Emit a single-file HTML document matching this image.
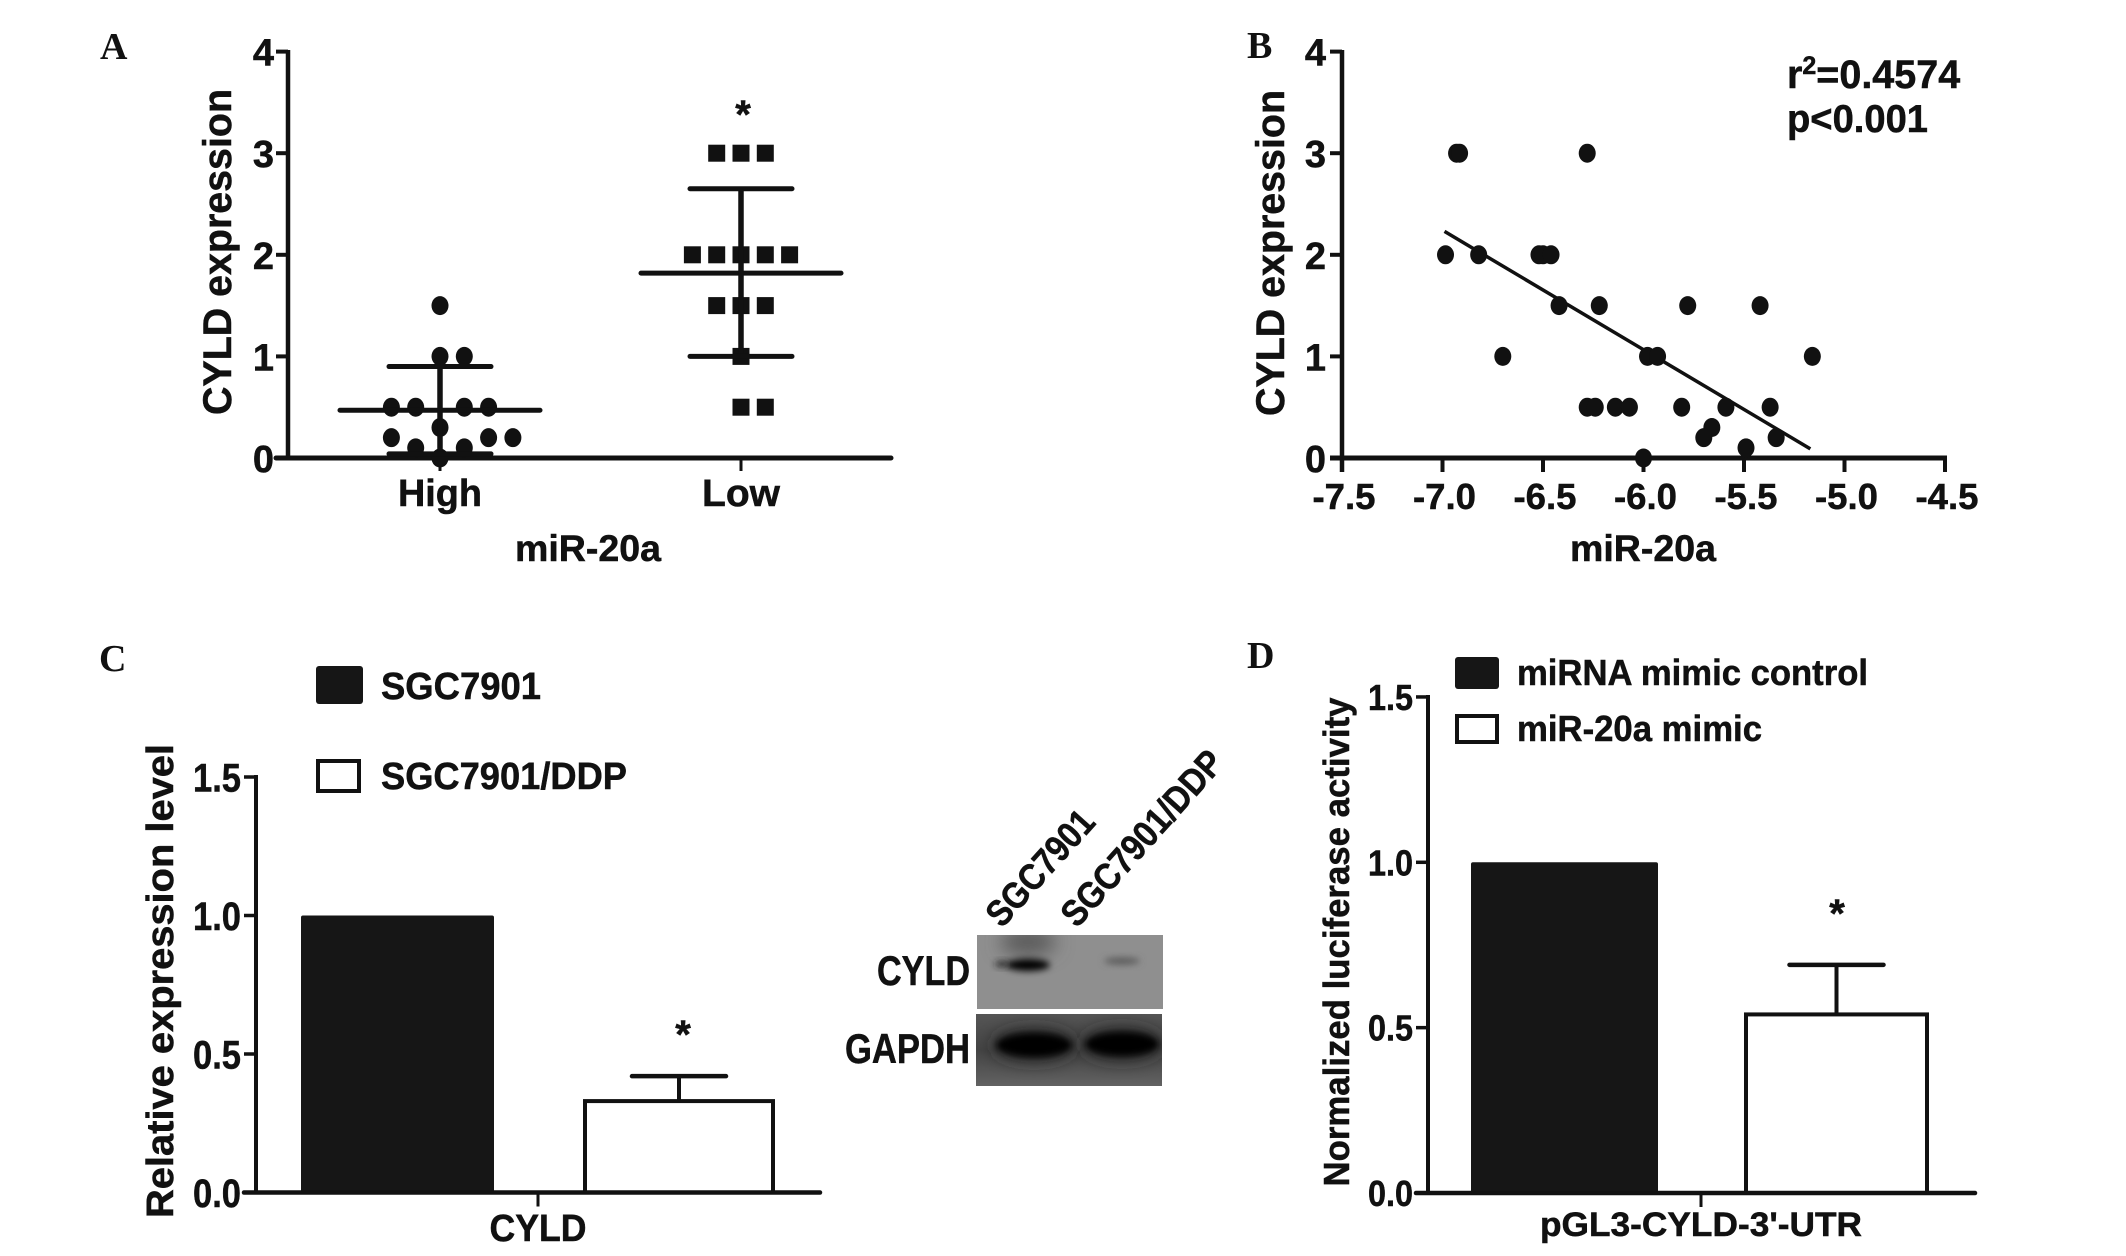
<!DOCTYPE html>
<html lang="en">
<head>
<meta charset="utf-8">
<title>CYLD expression figure</title>
<style>
html,body{margin:0;padding:0;background:#fff;}
svg{display:block;}
text{font-family:"Liberation Sans",sans-serif;font-weight:bold;fill:#111;stroke:#111;stroke-width:0.5px;}
.panel-letter{font-family:"Liberation Serif",serif;font-size:38px;stroke:none;}
</style>
</head>
<body>
<svg id="fig" xmlns="http://www.w3.org/2000/svg" width="2126" height="1256" viewBox="0 0 2126 1256">
  <defs>
    <filter id="blur-soft" x="-40%" y="-80%" width="180%" height="260%"><feGaussianBlur stdDeviation="3.5"/></filter>
    <filter id="blur-wide" x="-40%" y="-80%" width="180%" height="260%"><feGaussianBlur stdDeviation="9"/></filter>
    <clipPath id="clip-cyld"><rect x="977" y="935" width="186" height="74"/></clipPath>
    <clipPath id="clip-gapdh"><rect x="976" y="1014" width="186" height="72"/></clipPath>
    <linearGradient id="gapdh-bg" x1="0" y1="0" x2="0" y2="1">
      <stop offset="0" stop-color="#555"/><stop offset="0.5" stop-color="#444"/><stop offset="1" stop-color="#626262"/>
    </linearGradient>
  </defs>

  <text class="panel-letter" x="100" y="59">A</text>
  <text class="panel-letter" x="1247" y="58">B</text>
  <text class="panel-letter" x="99" y="671">C</text>
  <text class="panel-letter" x="1247" y="668">D</text>

  <g>
    <g clip-path="url(#clip-cyld)">
      <rect x="977" y="935" width="186" height="74" fill="#8f8f8f"/>
      <ellipse cx="1028" cy="942" rx="28" ry="14" fill="#5c5c5c" filter="url(#blur-wide)"/>
      <ellipse cx="1028" cy="965" rx="22" ry="6" fill="#000" filter="url(#blur-soft)"/>
      <ellipse cx="1002" cy="964" rx="7" ry="3" fill="#222" filter="url(#blur-soft)"/>
      <ellipse cx="1122" cy="961" rx="18" ry="3.5" fill="#5a5a5a" filter="url(#blur-soft)"/>
    </g>
    <g clip-path="url(#clip-gapdh)">
      <rect x="976" y="1014" width="186" height="72" fill="url(#gapdh-bg)"/>
      <ellipse cx="1034" cy="1045" rx="40" ry="15" fill="#222" filter="url(#blur-wide)"/>
      <ellipse cx="1122" cy="1044" rx="39" ry="15" fill="#222" filter="url(#blur-wide)"/>
      <ellipse cx="1034" cy="1045" rx="38" ry="12" fill="#000" filter="url(#blur-soft)"/>
      <ellipse cx="1122" cy="1044" rx="37" ry="12" fill="#000" filter="url(#blur-soft)"/>
    </g>
    <text x="877" y="985" font-size="42" textLength="93" lengthAdjust="spacingAndGlyphs">CYLD</text>
    <text x="845" y="1063" font-size="42" textLength="125" lengthAdjust="spacingAndGlyphs">GAPDH</text>
    <text transform="translate(1002,929) rotate(-48)" font-size="37" textLength="142" lengthAdjust="spacingAndGlyphs">SGC7901</text>
    <text transform="translate(1077,929) rotate(-48)" font-size="37" textLength="222" lengthAdjust="spacingAndGlyphs">SGC7901/DDP</text>
  </g>
</svg>

<script>
// Panel A: scatter with mean and SD
const groupLabels = ['High', 'Low'];
const highValues = [1.5, 1, 1, 0.5, 0.5, 0.5, 0.5, 0.3, 0.2, 0.2, 0.2, 0.1, 0.1, 0];
const highSlots = [0, 0, 1, -2, -1, 1, 2, 0, -2, 2, 3, -1, 1, 0];
const lowValues = [3, 3, 3, 2, 2, 2, 2, 2, 1.5, 1.5, 1.5, 1, 0.5, 0.5];
const lowSlots = [-1, 0, 1, -2, -1, 0, 1, 2, -1, 0, 1, 0, 0, 1];
const highSummary = [0.47, 0.9, 0.04];
const lowSummary = [1.82, 2.65, 1.0];
const scatterTicks = ['0', '1', '2', '3', '4'];

// Panel B: correlation
const corrX = [-6.93, -6.915, -6.28, -6.985, -6.82, -6.52, -6.5, -6.46, -6.42, -6.22, -5.78, -5.42, -6.70, -5.98, -5.93, -5.16, -6.28, -6.24, -6.14, -6.07, -5.81, -5.59, -5.37, -5.66, -5.70, -5.34, -5.49, -6.0];
const corrY = [3, 3, 3, 2, 2, 2, 2, 2, 1.5, 1.5, 1.5, 1.5, 1, 1, 1, 1, 0.5, 0.5, 0.5, 0.5, 0.5, 0.5, 0.5, 0.3, 0.2, 0.2, 0.1, 0];
const fitX = [-6.99, -5.17];
const fitY = [2.23, 0.09];
const corrXTicks = ['-7.5', '-7.0', '-6.5', '-6.0', '-5.5', '-5.0', '-4.5'];

// Panels C and D: bars
const barTicks = ['0.0', '0.5', '1.0', '1.5'];
const expressionValues = [1.0, 0.33];
const expressionErrors = [0, 0.09];
const luciferaseValues = [1.0, 0.54];
const luciferaseErrors = [0, 0.15];

const NS = 'http://www.w3.org/2000/svg';
const fig = document.getElementById('fig');

function mk(tag, attrs, parent) {
  const el = document.createElementNS(NS, tag);
  for (const k in attrs) el.setAttribute(k, attrs[k]);
  (parent || fig).appendChild(el);
  return el;
}
function txt(content, attrs, parent) {
  const el = mk('text', attrs, parent);
  el.textContent = content;
  return el;
}
function seg(x1, y1, x2, y2, w, parent, cap) {
  return mk('line', { x1, y1, x2, y2, stroke: '#111', 'stroke-width': w, 'stroke-linecap': cap || 'butt' }, parent);
}

/* ---------- Panel A ---------- */
const gA = mk('g', {});


const yA = v => 458 - v * 101.6;
const groupX = [440, 741];
const slotW = 24.3;

const aAxisY = seg(288, 50, 288, 460, 4.5, gA);


const aAxisX = seg(276, yA(0), 891, yA(0), 5, gA, 'round');



scatterTicks.forEach(function (t) {
  const v = parseFloat(t);
  const tick = seg(276, yA(v), 288, yA(v), 4, gA);
  
  
  const lab = txt(t, { x: 274, y: yA(v) + 14, 'font-size': 38, 'text-anchor': 'end' }, gA);
  
  
});
groupX.forEach(function (x, i) {
  const tick = seg(x, yA(0), x, yA(0) + 13, 3, gA);
  
  
  const lab = txt(groupLabels[i], { x: x, y: 506, 'font-size': 38, 'text-anchor': 'middle', textLength: i === 0 ? 84 : 78, lengthAdjust: 'spacingAndGlyphs' }, gA);
  
  
});
const aXTitle = txt('miR-20a', { x: 588, y: 561, 'font-size': 37, 'text-anchor': 'middle', textLength: 146, lengthAdjust: 'spacingAndGlyphs' }, gA);


const aYTitle = txt('CYLD expression', { transform: 'translate(231,252) rotate(-90)', 'font-size': 40, 'text-anchor': 'middle', textLength: 326, lengthAdjust: 'spacingAndGlyphs' }, gA);


const aStar = txt('*', { x: 743, y: 128, 'font-size': 40, 'text-anchor': 'middle' }, gA);



highValues.forEach(function (v, i) {
  const p = mk('ellipse', { cx: groupX[0] + highSlots[i] * slotW, cy: yA(v), rx: 8.5, ry: 9.5, fill: '#111' }, gA);
  
  
});
lowValues.forEach(function (v, i) {
  const cx = groupX[1] + lowSlots[i] * slotW;
  const p = mk('rect', { x: cx - 8.5, y: yA(v) - 8.5, width: 17, height: 17, fill: '#111' }, gA);
  
  
});
function summary(cx, vals, name) {
  const m = seg(cx - 100, yA(vals[0]), cx + 100, yA(vals[0]), 5, gA, 'round');
  
  
  const e = seg(cx, yA(vals[1]), cx, yA(vals[2]), 5.5, gA);
  
  
  const c1 = seg(cx - 51, yA(vals[1]), cx + 51, yA(vals[1]), 5, gA, 'round');
  
  
  const c2 = seg(cx - 51, yA(vals[2]), cx + 51, yA(vals[2]), 5, gA, 'round');
  
  
}
summary(groupX[0], highSummary, 'high');
summary(groupX[1], lowSummary, 'low');

/* ---------- Panel B ---------- */
const gB = mk('g', {});


const xB = v => 1342 + (v + 7.5) * 201;
const yB = v => 458 - v * 101.6;

const bAxisY = seg(xB(-7.5), 50, xB(-7.5), 472, 4.5, gB);


const bAxisX = seg(1330, yB(0), xB(-4.5) + 2, yB(0), 5, gB);


scatterTicks.forEach(function (t) {
  const v = parseFloat(t);
  const tick = seg(1330, yB(v), 1342, yB(v), 4, gB);
  
  
  const lab = txt(t, { x: 1326, y: yB(v) + 14, 'font-size': 38, 'text-anchor': 'end' }, gB);
  
  
});
corrXTicks.forEach(function (t) {
  const v = parseFloat(t);
  const tick = seg(xB(v), yB(0), xB(v), yB(0) + 14, 4, gB);
  
  
  const lab = txt(t, { x: xB(v) + 2, y: 509, 'font-size': 36, 'text-anchor': 'middle', textLength: 63, lengthAdjust: 'spacingAndGlyphs' }, gB);
  
  
});
const bXTitle = txt('miR-20a', { x: 1643, y: 561, 'font-size': 37, 'text-anchor': 'middle', textLength: 146, lengthAdjust: 'spacingAndGlyphs' }, gB);


const bYTitle = txt('CYLD expression', { transform: 'translate(1284,253) rotate(-90)', 'font-size': 40, 'text-anchor': 'middle', textLength: 326, lengthAdjust: 'spacingAndGlyphs' }, gB);


const fitLine = seg(xB(fitX[0]), yB(fitY[0]), xB(fitX[1]), yB(fitY[1]), 3.5, gB);


corrX.forEach(function (x, i) {
  const p = mk('ellipse', { cx: xB(x), cy: yB(corrY[i]), rx: 8.5, ry: 9.5, fill: '#111' }, gB);
  
  
});
const rText = txt('', { x: 1787, y: 88, 'font-size': 39.5 }, gB);


const r1 = mk('tspan', {}, rText);
r1.textContent = 'r';
const r2 = mk('tspan', { dy: -14, 'font-size': 25 }, rText);
r2.textContent = '2';
const r3 = mk('tspan', { dy: 14 }, rText);
r3.textContent = '=0.4574';
const pText = txt('p<0.001', { x: 1787, y: 132, 'font-size': 39, textLength: 141, lengthAdjust: 'spacingAndGlyphs' }, gB);



/* ---------- Bar panels ---------- */
function barPanel(name, c, values, errors) {
  const g = mk('g', {});
  
  
  const y = v => c.y0 - v * c.unit;

  barTicks.forEach(function (t) {
    const v = parseFloat(t);
    const tick = seg(c.axisX - 12, y(v), c.axisX, y(v), 3.5, g);
    
    
    const lab = txt(t, { x: c.axisX - 15, y: y(v) + c.tickDy, 'font-size': c.tickSize, 'text-anchor': 'end', textLength: c.tickW, lengthAdjust: 'spacingAndGlyphs' }, g);
    
    
  });

  const bar0 = mk('rect', { x: c.bars[0][0], y: y(values[0]), width: c.bars[0][1] - c.bars[0][0], height: values[0] * c.unit, rx: 2, fill: '#161616' }, g);
  
  

  const errTop = y(values[1] + errors[1]);
  const cx = (c.bars[1][0] + c.bars[1][1]) / 2;
  const errLine = seg(cx, errTop, cx, y(values[1]), 4, g);
  
  
  const cap = seg(cx - 47, errTop, cx + 47, errTop, 4.5, g, 'round');
  
  

  const bar1 = mk('rect', { x: c.bars[1][0] + 2, y: y(values[1]), width: c.bars[1][1] - c.bars[1][0] - 4, height: values[1] * c.unit, fill: '#fff', stroke: '#111', 'stroke-width': 4 }, g);
  
  

  const yAxis = seg(c.axisX, y(1.5) - 2, c.axisX, c.y0 + 2, 4, g);
  
  
  const xAxis = seg(c.axisX - 12, c.y0, c.axisEnd, c.y0, 4.5, g, 'round');
  
  
  const xTick = seg(c.tickX, c.y0, c.tickX, c.y0 + 14, 3, g);
  
  

  const star = txt('*', { x: cx + c.starDx, y: c.starY, 'font-size': 40, 'text-anchor': 'middle' }, g);
  
  
  const xLab = txt(c.xLabel, { x: c.tickX, y: c.xLabelY, 'font-size': c.xLabelSize, 'text-anchor': 'middle', textLength: c.xLabelW, lengthAdjust: 'spacingAndGlyphs' }, g);
  
  
  const yTitle = txt(c.yTitle, { transform: 'translate(' + c.yTitleX + ',' + c.yTitleY + ') rotate(-90)', 'font-size': c.yTitleSize, 'text-anchor': 'middle', textLength: c.yTitleW, lengthAdjust: 'spacingAndGlyphs' }, g);
  
  

  c.legend.forEach(function (it, i) {
    const sw = mk('rect', { x: it.x + (i ? 2 : 0), y: it.y + (i ? 2 : 0), width: it.w - (i ? 4 : 0), height: it.h - (i ? 4 : 0), rx: i ? 0 : 3, fill: i ? '#fff' : '#161616', stroke: i ? '#111' : 'none', 'stroke-width': i ? 4 : 0 }, g);
    
    
    const lab = txt(it.label, { x: it.tx, y: it.ty, 'font-size': it.size, textLength: it.tw, lengthAdjust: 'spacingAndGlyphs' }, g);
    
    
  });
}

barPanel('c', {
  axisX: 256, axisEnd: 820, y0: 1192.5, unit: 277,
  tickSize: 40, tickW: 48, tickDy: 14.5,
  bars: [[301, 494], [583, 775]], tickX: 538, starDx: 4, starY: 1048,
  xLabel: 'CYLD', xLabelY: 1241, xLabelSize: 38, xLabelW: 97,
  yTitle: 'Relative expression level', yTitleX: 173, yTitleY: 981, yTitleSize: 38, yTitleW: 474,
  legend: [
    { x: 316, y: 666, w: 47, h: 38, label: 'SGC7901', tx: 381, ty: 699, size: 38, tw: 160 },
    { x: 316, y: 759, w: 45, h: 34, label: 'SGC7901/DDP', tx: 381, ty: 789, size: 38, tw: 246 }
  ]
}, expressionValues, expressionErrors);

barPanel('d', {
  axisX: 1428, axisEnd: 1975, y0: 1193, unit: 330.7,
  tickSize: 36, tickW: 45, tickDy: 13,
  bars: [[1471, 1658], [1744, 1929]], tickX: 1701, starDx: 0.5, starY: 927,
  xLabel: "pGL3-CYLD-3'-UTR", xLabelY: 1236, xLabelSize: 34, xLabelW: 322,
  yTitle: 'Normalized luciferase activity', yTitleX: 1349, yTitleY: 942, yTitleSize: 36, yTitleW: 489,
  legend: [
    { x: 1455, y: 657, w: 44, h: 32, label: 'miRNA mimic control', tx: 1517, ty: 685, size: 36, tw: 351 },
    { x: 1455, y: 714, w: 44, h: 30, label: 'miR-20a mimic', tx: 1517, ty: 741, size: 36, tw: 245 }
  ]
}, luciferaseValues, luciferaseErrors);
</script>
</body>
</html>
